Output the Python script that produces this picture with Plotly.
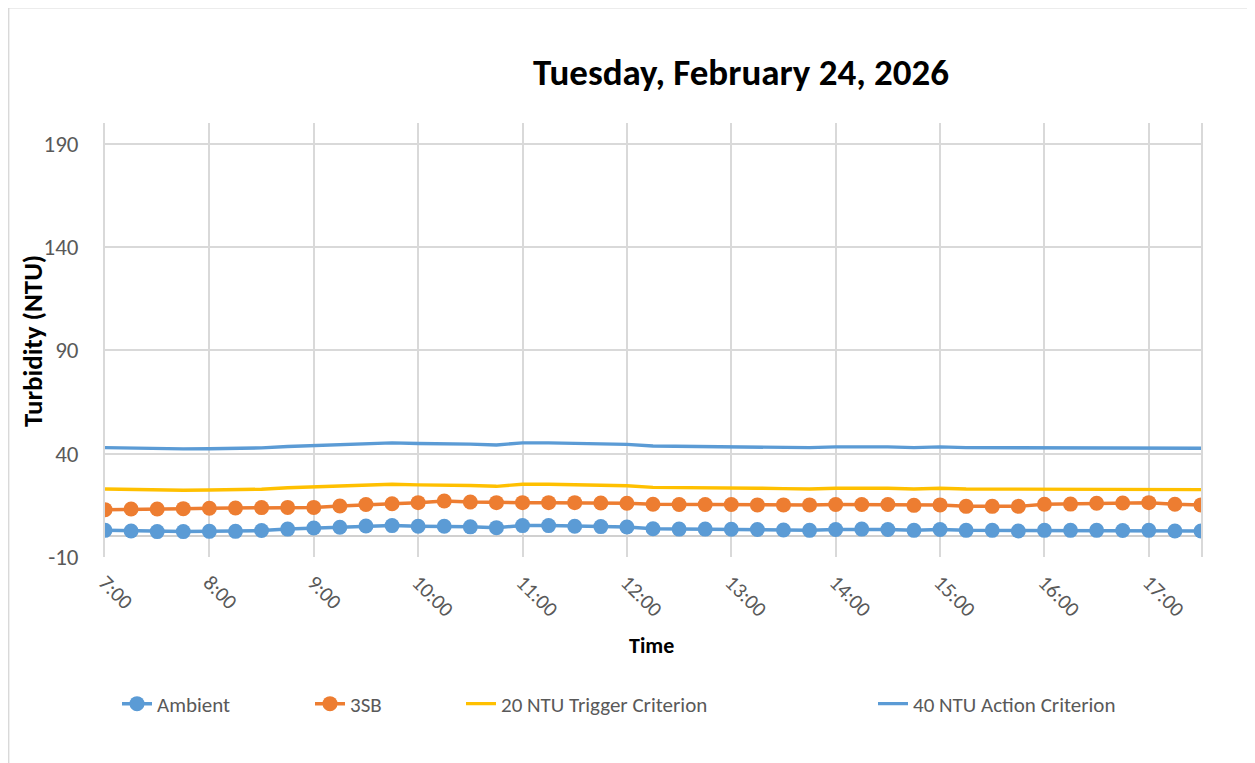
import plotly.graph_objects as go

# ---- data ----
times = ["07:00", "07:15", "07:30", "07:45", "08:00", "08:15", "08:30", "08:45",
         "09:00", "09:15", "09:30", "09:45", "10:00", "10:15", "10:30", "10:45",
         "11:00", "11:15", "11:30", "11:45", "12:00", "12:15", "12:30", "12:45",
         "13:00", "13:15", "13:30", "13:45", "14:00", "14:15", "14:30", "14:45",
         "15:00", "15:15", "15:30", "15:45", "16:00", "16:15", "16:30", "16:45",
         "17:00", "17:15", "17:30"]

ambient = [2.9, 2.6, 2.3, 2.3, 2.4, 2.4, 2.8, 3.5, 4.0, 4.4, 5.0, 5.2, 4.9, 4.9,
           4.6, 4.2, 5.2, 5.2, 4.9, 4.7, 4.5, 3.7, 3.5, 3.5, 3.4, 3.3, 3.1, 2.9,
           3.3, 3.5, 3.3, 2.9, 3.3, 2.9, 2.9, 2.6, 2.9, 2.9, 2.9, 2.8, 2.9, 2.6, 2.6]

sb3 = [12.9, 13.2, 13.2, 13.4, 13.6, 13.7, 13.9, 14.0, 14.0, 14.7, 15.4, 15.8, 16.3, 17.1,
       16.6, 16.3, 16.3, 16.3, 16.3, 16.1, 16.0, 15.5, 15.4, 15.4, 15.4, 15.2, 15.2, 15.2,
       15.4, 15.4, 15.4, 15.0, 15.2, 14.5, 14.5, 14.5, 15.5, 15.6, 16.0, 16.1, 16.3, 15.5, 15.2]

trigger = [22.9, 22.6, 22.3, 22.3, 22.4, 22.4, 22.8, 23.5, 24.0, 24.4, 25.0, 25.2, 24.9, 24.9,
           24.6, 24.2, 25.2, 25.2, 24.9, 24.7, 24.5, 23.7, 23.5, 23.5, 23.4, 23.3, 23.1, 22.9,
           23.3, 23.5, 23.3, 22.9, 23.3, 22.9, 22.9, 22.6, 22.9, 22.9, 22.9, 22.8, 22.9, 22.6, 22.6]

action = [42.9, 42.6, 42.3, 42.3, 42.4, 42.4, 42.8, 43.5, 44.0, 44.4, 45.0, 45.2, 44.9, 44.9,
          44.6, 44.2, 45.2, 45.2, 44.9, 44.7, 44.5, 43.7, 43.5, 43.5, 43.4, 43.3, 43.1, 42.9,
          43.3, 43.5, 43.3, 42.9, 43.3, 42.9, 42.9, 42.6, 42.9, 42.9, 42.9, 42.8, 42.9, 42.6, 42.6]

y_ticks = [-10, 40, 90, 140, 190]
y_tick_labels = ["-10", "40", "90", "140", "190"]

series_names = ["Ambient", "3SB", "20 NTU Trigger Criterion", "40 NTU Action Criterion"]
title_text = "Tuesday, February 24, 2026"
x_title = "Time"
y_title = "Turbidity (NTU)"
date_prefix = "2026-02-24 "

# ---- layout geometry (screen pixels; page body adds an 8px offset) ----
W, H = 1255, 763
OFF = 8
L, R, T, B = 105 - OFF, 1201 - OFF, 123 - OFF, 557 - OFF
FONT = "Carlito, Calibri, Lato, sans-serif"
GRID = "#D9D9D9"
TXT = "#595959"


def px(x):
    return (x - OFF - L) / (R - L)


def py(y):
    return (B - (y - OFF)) / (B - T)


x = [date_prefix + t for t in times]

fig = go.Figure()
fig.add_trace(go.Scatter(x=x, y=ambient, name=series_names[0], mode="lines+markers",
                         line=dict(color="#5B9BD5", width=3.5),
                         marker=dict(size=15, color="#5B9BD5", line=dict(width=0)),
                         legend="legend"))
fig.add_trace(go.Scatter(x=x, y=sb3, name=series_names[1], mode="lines+markers",
                         line=dict(color="#ED7D31", width=3.5),
                         marker=dict(size=15, color="#ED7D31", line=dict(width=0)),
                         legend="legend2"))
fig.add_trace(go.Scatter(x=x, y=trigger, name=series_names[2], mode="lines",
                         line=dict(color="#FFC000", width=3.4),
                         legend="legend3"))
fig.add_trace(go.Scatter(x=x, y=action, name=series_names[3], mode="lines",
                         line=dict(color="#5B9BD5", width=3.4),
                         legend="legend4"))

leg_common = dict(orientation="h", xanchor="left", yanchor="middle",
                  font=dict(family=FONT, size=21, color=TXT),
                  bgcolor="rgba(0,0,0,0)", borderwidth=0)
leg_x = [117, 310, 461, 873]
legends = {}
for i, lx in enumerate(leg_x):
    key = "legend" if i == 0 else f"legend{i+1}"
    legends[key] = dict(leg_common, x=px(lx), y=py(704))

fig.update_layout(
    width=W, height=H,
    margin=dict(l=L, r=W - R, t=T, b=H - B),
    paper_bgcolor="white", plot_bgcolor="white",
    font=dict(family=FONT, color=TXT),
    showlegend=True,
    **legends,
    xaxis=dict(
        type="date",
        range=[date_prefix + "07:00", date_prefix + "17:30"],
        tick0=date_prefix + "07:00", dtick=3600000,
        tickformat="%-H:%M", tickangle=45,
        tickfont=dict(family=FONT, size=21, color=TXT),
        showgrid=True, gridcolor=GRID, gridwidth=1.8,
        showline=False, zeroline=False, ticks="",
        ticklabelstandoff=8,
    ),
    yaxis=dict(
        range=[-10, 200], tickmode="array", tickvals=y_ticks, ticktext=y_tick_labels,
        tickfont=dict(family=FONT, size=23, color=TXT),
        showgrid=True, gridcolor=GRID, gridwidth=1.8,
        zeroline=True, zerolinecolor="#D0D0D0", zerolinewidth=1.8,
        showline=True, mirror=True, linecolor=GRID, linewidth=1.8,
        ticks="", ticklabelstandoff=20,
    ),
    annotations=[
        dict(text=f"<b>{title_text}</b>", x=px(741), y=py(73), xref="paper", yref="paper",
             xanchor="center", yanchor="middle", showarrow=False,
             font=dict(family=FONT, size=37, color="#000000")),
        dict(text=f"<b>{x_title}</b>", x=px(651), y=py(645), xref="paper", yref="paper",
             xanchor="center", yanchor="middle", showarrow=False,
             font=dict(family=FONT, size=22, color="#000000")),
        dict(text=f"<b>{y_title}</b>", x=px(32), y=py(341), xref="paper", yref="paper",
             xanchor="center", yanchor="middle", showarrow=False, textangle=-90,
             font=dict(family=FONT, size=27, color="#000000")),
    ],
    shapes=[
        dict(type="line", xref="paper", yref="paper", x0=px(8.5), x1=px(1300),
             y0=py(7.5), y1=py(7.5), line=dict(color=GRID, width=1.8)),
        dict(type="line", xref="paper", yref="paper", x0=px(8.5), x1=px(8.5),
             y0=py(7.5), y1=py(800), line=dict(color=GRID, width=1.8)),
    ],
)

fig.write_html("out.html")
